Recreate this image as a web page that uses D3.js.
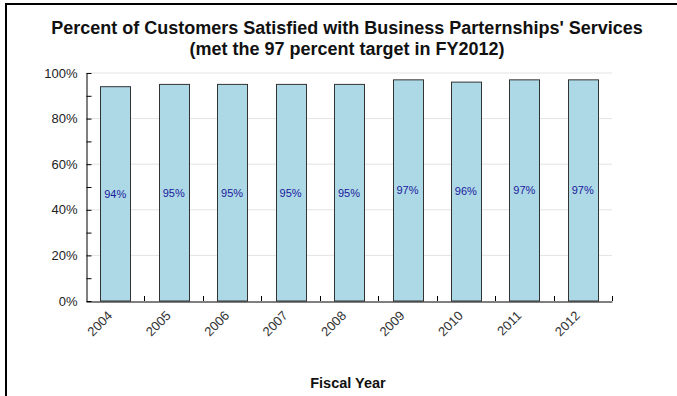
<!DOCTYPE html>
<html><head><meta charset="utf-8">
<script src="https://cdn.jsdelivr.net/npm/d3@7"></script>
<style>body{margin:0;background:#fff}svg{display:block;font-family:Arial,"Liberation Sans",sans-serif}</style>
</head><body>
<svg id="c" width="677" height="396"></svg>
<script>
const years = ["2004","2005","2006","2007","2008","2009","2010","2011","2012"];
const satisfied = [94,95,95,95,95,97,96,97,97];
const yTicks = [0,20,40,60,80,100];
const titleLines = ["Percent of Customers Satisfied with Business Parternships' Services","(met the 97 percent target in FY2012)"];
const xTitle = "Fiscal Year";

const svg = d3.select("#c");
svg.append("rect").attr("x",6).attr("y",4).attr("width",680).attr("height",400)
  .attr("fill","none").attr("stroke","#000").attr("stroke-width",2);

const m = {l:86, r:612, t:73, b:301};
const x = d3.scaleBand().domain(years).range([m.l,m.r]).paddingInner(0.49).paddingOuter(0.245);
const y = d3.scaleLinear().domain([0,100]).range([m.b,m.t]);

// gridlines
svg.append("g").selectAll("line").data(yTicks.filter(d=>d>0)).join("line")
  .attr("x1",m.l).attr("x2",m.r).attr("y1",d=>y(d)).attr("y2",d=>y(d))
  .attr("stroke","#e3e3e3").attr("stroke-width",1);

// bars
svg.append("g").selectAll("rect").data(years).join("rect")
  .attr("x",d=>Math.round(x(d))+0.5).attr("width",Math.round(x.bandwidth()))
  .attr("y",(d,i)=>y(satisfied[i])).attr("height",(d,i)=>m.b-y(satisfied[i]))
  .attr("fill","#add8e6").attr("stroke","#333").attr("stroke-width",1);

// value labels
svg.append("g").selectAll("text").data(years).join("text")
  .attr("x",d=>x(d)+x.bandwidth()/2).attr("y",(d,i)=>(y(satisfied[i])+m.b)/2)
  .attr("dy","0.35em").attr("text-anchor","middle")
  .attr("font-size",11).attr("fill","#1a1a9c")
  .text((d,i)=>satisfied[i]+"%");

// y axis
const ya = svg.append("g").attr("transform",`translate(${m.l+0.5},0)`)
  .call(d3.axisLeft(y).tickValues(yTicks).tickFormat(d=>d+"%").tickSize(0).tickPadding(9));
ya.select(".domain").attr("stroke","#000");
ya.selectAll("text").attr("font-size",13).attr("fill","#222").attr("font-family","Arial,'Liberation Sans',sans-serif");
const ya2 = svg.append("g").attr("transform",`translate(${m.l+0.5},0)`)
  .call(d3.axisRight(y).ticks(10).tickSize(5).tickFormat(""));
ya2.select(".domain").remove();
ya2.selectAll("line").attr("stroke","#000");

// x axis
const xa = svg.append("g").attr("transform",`translate(0,${m.b+0.5})`)
  .call(d3.axisBottom(x).tickSize(0).tickPadding(0));
xa.select(".domain").attr("stroke","#000");
xa.selectAll("text").attr("font-size",13).attr("fill","#333")
  .attr("font-family","Arial,'Liberation Sans',sans-serif")
  .attr("text-anchor","end").attr("dy","0")
  .attr("transform","translate(-2,15) rotate(-45)");
// boundary ticks (pointing up)
const bounds = years.map(d=>x(d)+x.bandwidth()+x.step()*x.paddingInner()/2);
svg.append("g").selectAll("line").data(bounds).join("line")
  .attr("x1",d=>Math.round(d)+0.5).attr("x2",d=>Math.round(d)+0.5)
  .attr("y1",m.b).attr("y2",m.b-5).attr("stroke","#000");

// titles
svg.append("g").selectAll("text").data(titleLines).join("text")
  .attr("x",347).attr("y",(d,i)=>34+i*21).attr("text-anchor","middle")
  .attr("font-size",18).attr("font-weight","bold").attr("fill","#111").text(d=>d);
svg.append("text").attr("x",348).attr("y",388).attr("text-anchor","middle")
  .attr("font-size",14.5).attr("font-weight","bold").attr("fill","#111").text(xTitle);
</script>
</body></html>
